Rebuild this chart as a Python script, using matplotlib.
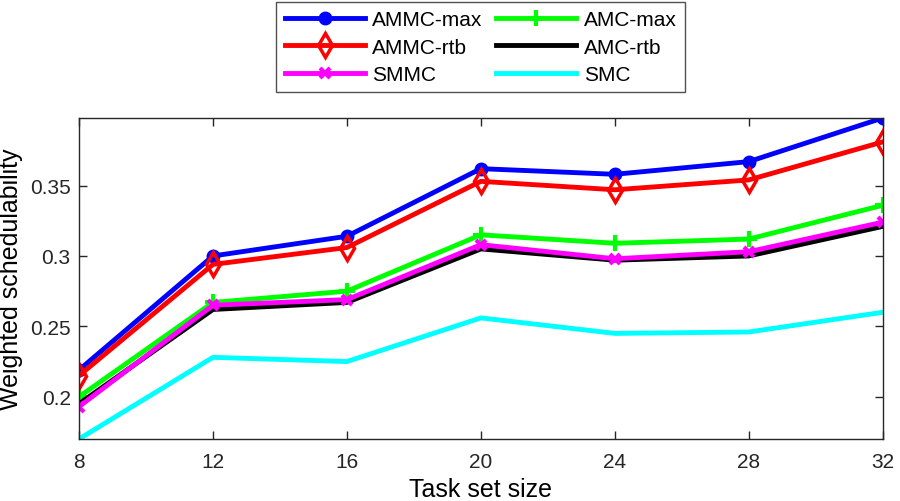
import matplotlib
matplotlib.use("Agg")
import matplotlib.pyplot as plt

plt.rcParams['font.family'] = ['Liberation Sans', 'DejaVu Sans']

task_sizes = [8, 12, 16, 20, 24, 28, 32]
ammc_max = [0.219, 0.300, 0.314, 0.362, 0.358, 0.367, 0.398]
ammc_rtb = [0.215, 0.294, 0.306, 0.353, 0.347, 0.354, 0.381]
amc_max = [0.200, 0.267, 0.275, 0.315, 0.309, 0.312, 0.336]
amc_rtb = [0.195, 0.262, 0.267, 0.305, 0.297, 0.300, 0.321]
smmc = [0.193, 0.265, 0.269, 0.308, 0.298, 0.303, 0.324]
smc = [0.170, 0.228, 0.225, 0.256, 0.245, 0.246, 0.260]
y_ticks = [0.2, 0.25, 0.3, 0.35]
y_tick_labels = ['0.2', '0.25', '0.3', '0.35']

fig = plt.figure(figsize=(9.0, 5.02), dpi=100)
ax = fig.add_axes([0.0878, 0.1235, 0.893, 0.6395])

lw = 3.5
h1, = ax.plot(task_sizes, ammc_max, color='#0000ff', lw=lw, marker='o', ms=9,
              mfc='#0000ff', mec='#0000ff', label='AMMC-max')
h2, = ax.plot(task_sizes, amc_max, color='#00ff00', lw=lw, marker='+', ms=11,
              mew=3, label='AMC-max')
h3, = ax.plot(task_sizes, ammc_rtb, color='#ff0000', lw=lw, marker='d', ms=12,
              mfc='none', mec='#ff0000', mew=2.5, label='AMMC-rtb')
h4, = ax.plot(task_sizes, amc_rtb, color='black', lw=lw, label='AMC-rtb')
h5, = ax.plot(task_sizes, smmc, color='#ff00ff', lw=lw, marker='x', ms=7,
              mew=3, label='SMMC')
h6, = ax.plot(task_sizes, smc, color='#00ffff', lw=lw, label='SMC')

ax.set_xlim(8, 32)
ax.set_ylim(0.170, 0.398)
ax.set_xticks(task_sizes)
ax.set_yticks(y_ticks)
ax.set_yticklabels(y_tick_labels)
ax.tick_params(direction='in', length=6, width=1, labelsize=15, colors='#262626',
               top=True, right=True, pad=6)
ax.tick_params(axis='x', pad=9)
for s in ax.spines.values():
    s.set_color('#262626')
    s.set_linewidth(1)
ax.set_xlabel('Task set size', fontsize=18, labelpad=5)
ax.set_ylabel('Weighted schedulability', fontsize=18, labelpad=5)

leg = fig.legend([h1, h3, h5, h2, h4, h6],
                 ['AMMC-max', 'AMMC-rtb', 'SMMC', 'AMC-max', 'AMC-rtb', 'SMC'],
                 ncol=2, loc='upper center', bbox_to_anchor=(0.534, 0.994),
                 fontsize=15, frameon=True, fancybox=False, edgecolor='#262626',
                 handlelength=3.85, handletextpad=0.35, columnspacing=0.65,
                 labelspacing=0.4, borderpad=0.4, borderaxespad=0)
leg.get_frame().set_linewidth(1)

fig.savefig('out.png', dpi=100)
